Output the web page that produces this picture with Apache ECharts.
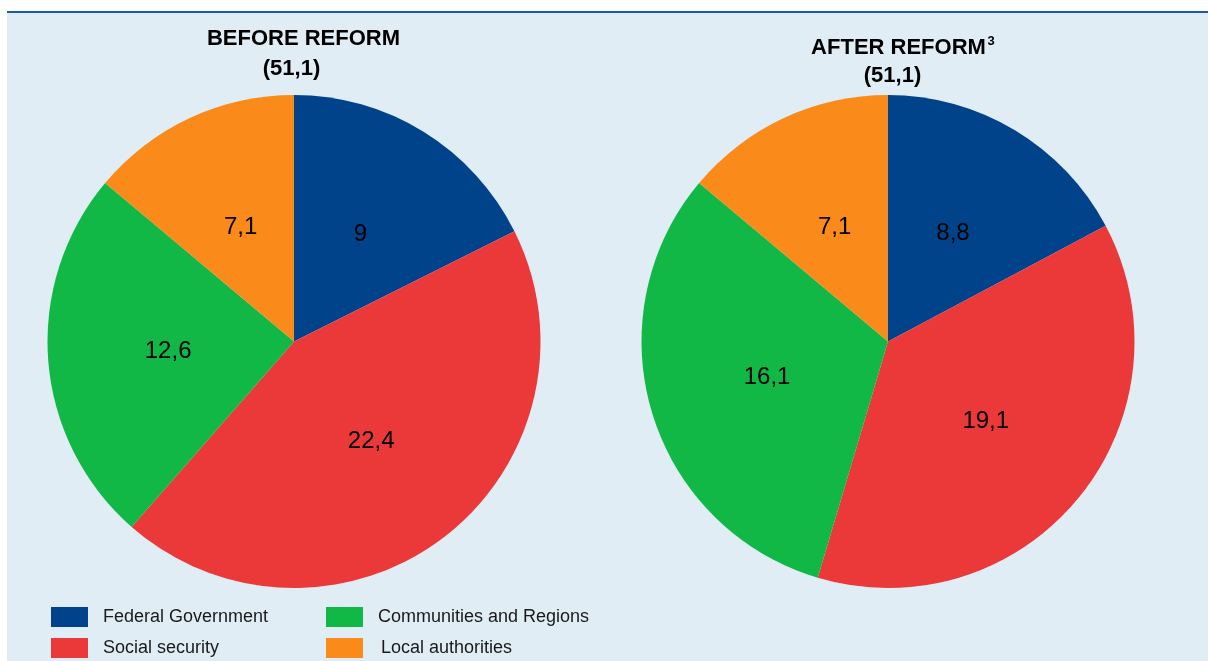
<!DOCTYPE html>
<html>
<head>
<meta charset="utf-8">
<script src="https://cdn.jsdelivr.net/npm/echarts@6/dist/echarts.min.js"></script>
<style>
  html, body { margin: 0; padding: 0; background: #ffffff; }
  #chart { width: 1208px; height: 661px; }
</style>
</head>
<body>
<div id="chart"></div>
<script>
// Breakdown of the 51,1 total by level of government, before and after the reform
const categories = ['Federal Government', 'Social security', 'Communities and Regions', 'Local authorities'];
const beforeValues = [9, 22.4, 12.6, 7.1];
const afterValues = [8.8, 19.1, 16.1, 7.1];
const beforeTitle = 'BEFORE REFORM';
const afterTitle = 'AFTER REFORM';
const afterNote = '3';
const totalLabel = '(51,1)';

const colors = ['#00438a', '#eb3838', '#12b846', '#fa8a19'];
const font = '"Liberation Sans", Arial, sans-serif';

const fmt = v => String(v).replace('.', ',');

function pieSeries(name, values, cx) {
  return {
    type: 'pie',
    name: name,
    center: [cx, 341.5],
    radius: 246.5,
    startAngle: 90,
    clockwise: true,
    silent: true,
    data: categories.map((c, i) => ({ name: c, value: values[i], itemStyle: { color: colors[i] } })),
    label: {
      show: true,
      position: 'inside',
      formatter: p => fmt(p.value),
      color: '#000000',
      fontSize: 24,
      fontFamily: font
    },
    labelLine: { show: false },
    itemStyle: { borderWidth: 0 },
    emphasis: { disabled: true }
  };
}

const legendBase = {
  orient: 'vertical',
  icon: 'rect',
  itemWidth: 37,
  itemHeight: 20,
  itemGap: 11,
  padding: 0,
  selectedMode: false,
  textStyle: { fontSize: 18, fontFamily: font, color: '#1a1a1a', padding: [0, 0, 0, 10] }
};

const chart = echarts.init(document.getElementById('chart'), null, { renderer: 'canvas' });
chart.setOption({
  animation: false,
  backgroundColor: '#ffffff',
  color: colors,
  graphic: [
    { type: 'rect', shape: { x: 7, y: 13, width: 1201, height: 648 }, style: { fill: '#e0edf5' }, z: -10 },
    { type: 'rect', shape: { x: 7, y: 11, width: 1201, height: 2 }, style: { fill: '#1d5d9b' }, z: -9 },
    { type: 'text', x: 303.5, y: 39, style: { text: beforeTitle, font: 'bold 22px ' + font, fill: '#000', textAlign: 'center', textVerticalAlign: 'middle' } },
    { type: 'text', x: 291.5, y: 68.5, style: { text: totalLabel, font: 'bold 22px ' + font, fill: '#000', textAlign: 'center', textVerticalAlign: 'middle' } },
    { type: 'text', x: 898.5, y: 48, style: { text: afterTitle, font: 'bold 22px ' + font, fill: '#000', textAlign: 'center', textVerticalAlign: 'middle' } },
    { type: 'text', x: 987.5, y: 41.5, style: { text: afterNote, font: 'bold 13px ' + font, fill: '#000', textAlign: 'left', textVerticalAlign: 'middle' } },
    { type: 'text', x: 892.5, y: 76, style: { text: totalLabel, font: 'bold 22px ' + font, fill: '#000', textAlign: 'center', textVerticalAlign: 'middle' } }
  ],
  legend: [
    Object.assign({}, legendBase, { left: 51, top: 607, data: [categories[0], categories[1]] }),
    Object.assign({}, legendBase, {
      left: 326, top: 607,
      data: [
        { name: categories[2] },
        { name: categories[3], textStyle: { padding: [0, 0, 0, 13] } }
      ]
    })
  ],
  series: [
    pieSeries('before', beforeValues, 294),
    pieSeries('after', afterValues, 888)
  ]
});
</script>
</body>
</html>
